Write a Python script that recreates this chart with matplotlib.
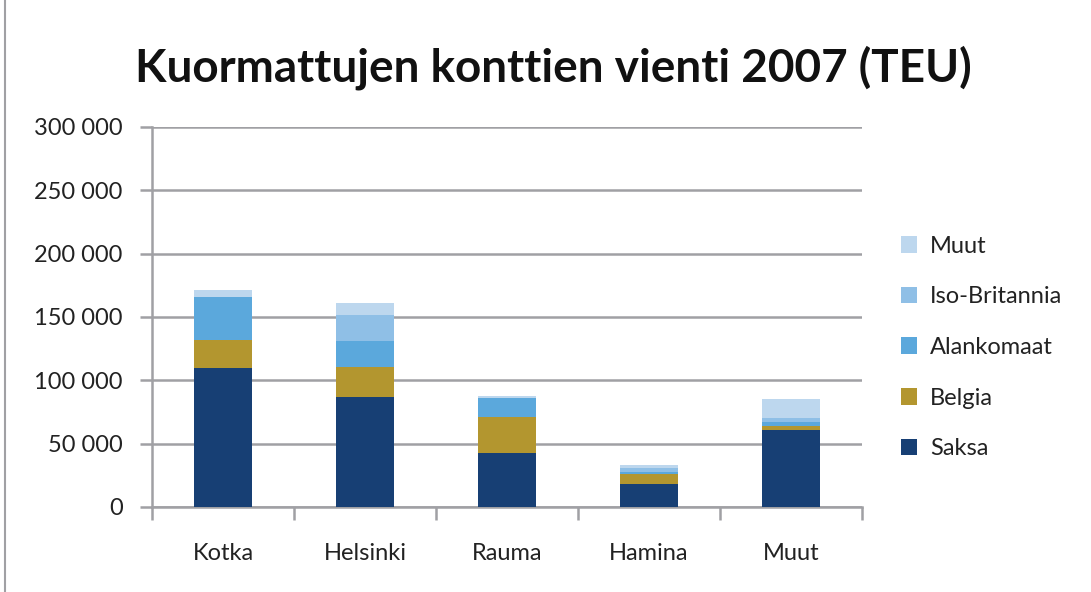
import matplotlib.pyplot as plt
import numpy as np
from matplotlib.ticker import FuncFormatter, FixedLocator
from matplotlib.lines import Line2D

plt.rcParams['font.family'] = ['Lato', 'DejaVu Sans']

ports = ['Kotka', 'Helsinki', 'Rauma', 'Hamina', 'Muut']
series = ['Saksa', 'Belgia', 'Alankomaat', 'Iso-Britannia', 'Muut']
saksa = [110000, 87000, 43000, 18200, 60800]
belgia = [21600, 23300, 28000, 8200, 3400]
alankomaat = [34400, 21000, 14700, 1500, 3200]
iso_britannia = [0, 20300, 0, 3000, 2900]
muut = [5300, 9400, 2200, 2200, 15200]
colors = ['#173f74', '#b3962f', '#5ba8dc', '#8fbfe6', '#bdd7ee']

values = [saksa, belgia, alankomaat, iso_britannia, muut]

fig = plt.figure(figsize=(10.91, 5.92), dpi=100)
ax = fig.add_axes([0.1393, 0.1436, 0.6507, 0.6419])

x = np.arange(len(ports))
bottom = np.zeros(len(ports))
handles = []
for name, vals, col in zip(series, values, colors):
    b = ax.bar(x, vals, width=0.41, bottom=bottom, color=col, label=name, zorder=3)
    bottom += np.array(vals)
    handles.append(b)

ax.set_xlim(-0.5, len(ports) - 0.5)
ax.set_ylim(0, 300000)
ax.set_yticks(np.arange(0, 300001, 50000))
ax.yaxis.set_major_formatter(FuncFormatter(lambda v, p: f"{int(v):,}".replace(',', ' ')))
ax.yaxis.grid(True, color='#a0a0a4', linewidth=1.8, zorder=0)

ax.set_xticks(x)
ax.set_xticklabels(ports)
ax.xaxis.set_minor_locator(FixedLocator(np.arange(-0.5, len(ports), 1.0)))
ax.tick_params(axis='x', which='major', length=0, pad=26, labelsize=17, labelcolor='#222222')
ax.tick_params(axis='x', which='minor', length=9, width=1.8, color='#a0a0a4')
ax.tick_params(axis='y', length=9, width=1.8, color='#a0a0a4', labelsize=17,
               labelcolor='#222222', pad=12)

for s in ['top', 'right']:
    ax.spines[s].set_visible(False)
for s in ['left', 'bottom']:
    ax.spines[s].set_color('#a0a0a4')
    ax.spines[s].set_linewidth(1.8)

fig.text(0.507, 0.885, 'Kuormattujen konttien vienti 2007 (TEU)', ha='center', va='center',
         fontsize=33, fontweight='bold', color='#111111')

leg = fig.legend(handles[::-1], series[::-1], loc='center left', bbox_to_anchor=(0.817, 0.413),
                 frameon=False, fontsize=17, labelspacing=1.25, handlelength=0.7,
                 handleheight=0.7, handletextpad=0.55, borderaxespad=0)
for t in leg.get_texts():
    t.set_color('#222222')

fig.add_artist(Line2D([0.005, 0.005], [0, 1], transform=fig.transFigure, color='#a0a0a4', lw=1.5))

fig.savefig('out.png', dpi=100)
